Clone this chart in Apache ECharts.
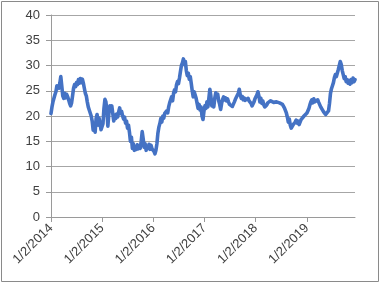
<!DOCTYPE html>
<html>
<head>
<meta charset="utf-8">
<script src="https://cdn.jsdelivr.net/npm/echarts@6/dist/echarts.min.js"></script>
<style>
html,body{margin:0;padding:0;background:#fff;}
#chart{width:381px;height:283px;}
</style>
</head>
<body>
<div id="chart"></div>
<script>
// first date of the weekly series
const startDate = '2014-01-02';
// x-axis tick labels
const tickLabels = ['1/2/2014', '1/2/2015', '1/2/2016', '1/2/2017', '1/2/2018', '1/2/2019'];
// y-axis range
const yMin = 0, yMax = 40, yStep = 5;
// weekly values (one per 7 days from startDate)
const values2014 = [20.5, 21.8, 22.8, 23.5, 24.2, 24.8, 26.0, 26.3, 25.5, 26.5, 27.8, 27.5, 24.0,
  23.5, 24.5, 23.6, 24.3, 23.8, 23.2, 22.5, 22.0, 22.6, 24.0, 25.5, 26.2, 25.8,
  26.6, 26.2, 27.2, 26.5, 27.4, 26.6, 27.3, 26.5, 25.5, 24.5, 24.0, 22.8, 21.8,
  21.2, 21.0, 20.0, 19.0, 17.2, 18.5, 16.8, 19.5, 20.3, 18.2, 19.6, 18.5, 17.3];
const values2015 = [17.0, 18.5, 21.5, 23.3, 22.8, 21.0, 18.0, 20.5, 22.0, 21.3, 22.0, 20.5, 19.0,
  20.2, 19.5, 20.4, 19.8, 20.8, 21.6, 20.5, 20.9, 20.0, 19.4, 19.8, 18.6, 19.0,
  17.6, 18.2, 16.8, 15.0, 15.8, 13.6, 14.5, 13.2, 13.8, 13.4, 14.3, 13.5, 14.0,
  13.6, 15.0, 16.9, 15.5, 13.8, 14.5, 13.2, 14.0, 13.6, 14.4, 13.4, 14.2, 13.5];
const values2016 = [13.8, 13.0, 12.5, 13.2, 14.5, 16.6, 17.8, 18.5, 19.5, 18.8, 20.0, 19.6, 20.5,
  20.2, 21.0, 20.6, 21.8, 22.6, 22.3, 23.8, 23.0, 24.5, 25.2, 24.8, 26.2, 26.8,
  26.4, 27.5, 28.8, 30.0, 30.5, 31.3, 30.2, 30.8, 29.0, 28.0, 28.5, 27.3, 27.8,
  26.5, 25.0, 23.8, 24.8, 25.0, 23.5, 22.5, 21.5, 22.3, 21.2, 21.8, 20.0, 19.3];
const values2017 = [21.0, 22.0, 21.5, 22.8, 21.8, 23.5, 25.3, 24.0, 22.0, 23.0, 21.8, 23.5, 24.6,
  23.8, 24.3, 23.0, 22.3, 21.3, 22.5, 23.3, 23.8, 23.2, 23.6, 23.0, 23.4, 22.8,
  22.3, 22.0, 22.4, 21.9, 22.2, 22.8, 23.3, 23.0, 23.6, 24.5, 25.3, 24.2, 23.5,
  23.9, 23.2, 23.6, 23.1, 23.4, 23.0, 23.5, 23.0, 23.3, 22.5, 22.0, 22.4, 22.8];
const values2018 = [23.4, 23.8, 24.2, 24.8, 24.0, 22.8, 23.5, 22.5, 23.0, 22.2, 21.8, 21.5, 22.2,
  22.6, 22.9, 22.7, 23.0, 22.8, 23.1, 22.7, 22.9, 22.6, 22.8, 22.5, 22.8, 22.6,
  22.4, 22.7, 22.3, 22.0, 21.6, 21.3, 20.6, 19.8, 18.8, 19.4, 18.2, 17.6, 17.4,
  18.3, 18.0, 18.8, 19.2, 18.6, 19.0, 18.3, 18.8, 19.3, 19.0, 19.6, 20.0, 19.7];
const values2019 = [20.2, 20.6, 20.9, 21.5, 22.2, 22.8, 23.2, 22.6, 23.4, 22.8, 23.0, 22.6, 23.2,
  22.7, 22.9, 21.8, 21.5, 21.8, 20.8, 20.5, 20.3, 20.6, 20.2, 21.0, 22.5, 24.5,
  25.4, 26.0, 26.6, 27.6, 28.2, 27.8, 28.5, 29.2, 30.0, 30.8, 30.2, 29.0, 28.2,
  27.4, 27.8, 26.8, 27.2, 26.5, 27.0, 26.3, 27.2, 26.6, 27.5, 26.8, 27.2];

const values = [].concat(values2014, values2015, values2016, values2017, values2018, values2019);

const DAY = 86400000;
const t0 = Date.parse(startDate);
function mdyToDays(s) {
  const p = s.split('/').map(Number);
  return Math.round((Date.UTC(p[2], p[0] - 1, p[1]) - t0) / DAY);
}
const tickDays = tickLabels.map(mdyToDays);
const seriesData = values.map((v, i) => [i * 7, v]);

const axisColor = '#9a9a9a';
const textColor = '#404040';
const font = '"Liberation Sans", Arial, sans-serif';

const chart = echarts.init(document.getElementById('chart'), null, {renderer: 'canvas'});
chart.setOption({
  animation: false,
  backgroundColor: '#ffffff',
  grid: {left: 51, right: 26, top: 15, bottom: 66, containLabel: false, outerBoundsMode: 'none'},
  xAxis: {
    type: 'value',
    min: 0,
    max: (values.length - 1) * 7,
    axisLine: {show: true, onZero: false, lineStyle: {color: axisColor, width: 1}},
    axisTick: {show: true, customValues: tickDays, length: 5, inside: false, lineStyle: {color: axisColor}},
    axisLabel: {
      customValues: tickDays,
      rotate: 45,
      margin: 9,
      color: textColor,
      fontSize: 13,
      fontFamily: font,
      formatter: function (v) {
        const idx = tickDays.indexOf(Math.round(v));
        return idx >= 0 ? tickLabels[idx] : '';
      }
    },
    splitLine: {show: false}
  },
  yAxis: {
    type: 'value',
    min: yMin,
    max: yMax,
    interval: yStep,
    axisLine: {show: true, lineStyle: {color: axisColor, width: 1}},
    axisTick: {show: true, length: 5, lineStyle: {color: axisColor}},
    axisLabel: {color: textColor, fontSize: 13, fontFamily: font, margin: 11},
    splitLine: {show: true, lineStyle: {color: '#a6a6a6', width: 1}}
  },
  series: [{
    type: 'line',
    data: seriesData,
    showSymbol: false,
    symbol: 'none',
    smooth: false,
    lineStyle: {color: '#4472C4', width: 3.6, join: 'round', cap: 'round'},
    z: 3
  }],
  graphic: [{
    type: 'rect',
    silent: true,
    shape: {x: 1.5, y: 1.5, width: 377, height: 280},
    style: {fill: 'none', stroke: '#8a8a8a', lineWidth: 1},
    z: 100
  }]
});
</script>
</body>
</html>
